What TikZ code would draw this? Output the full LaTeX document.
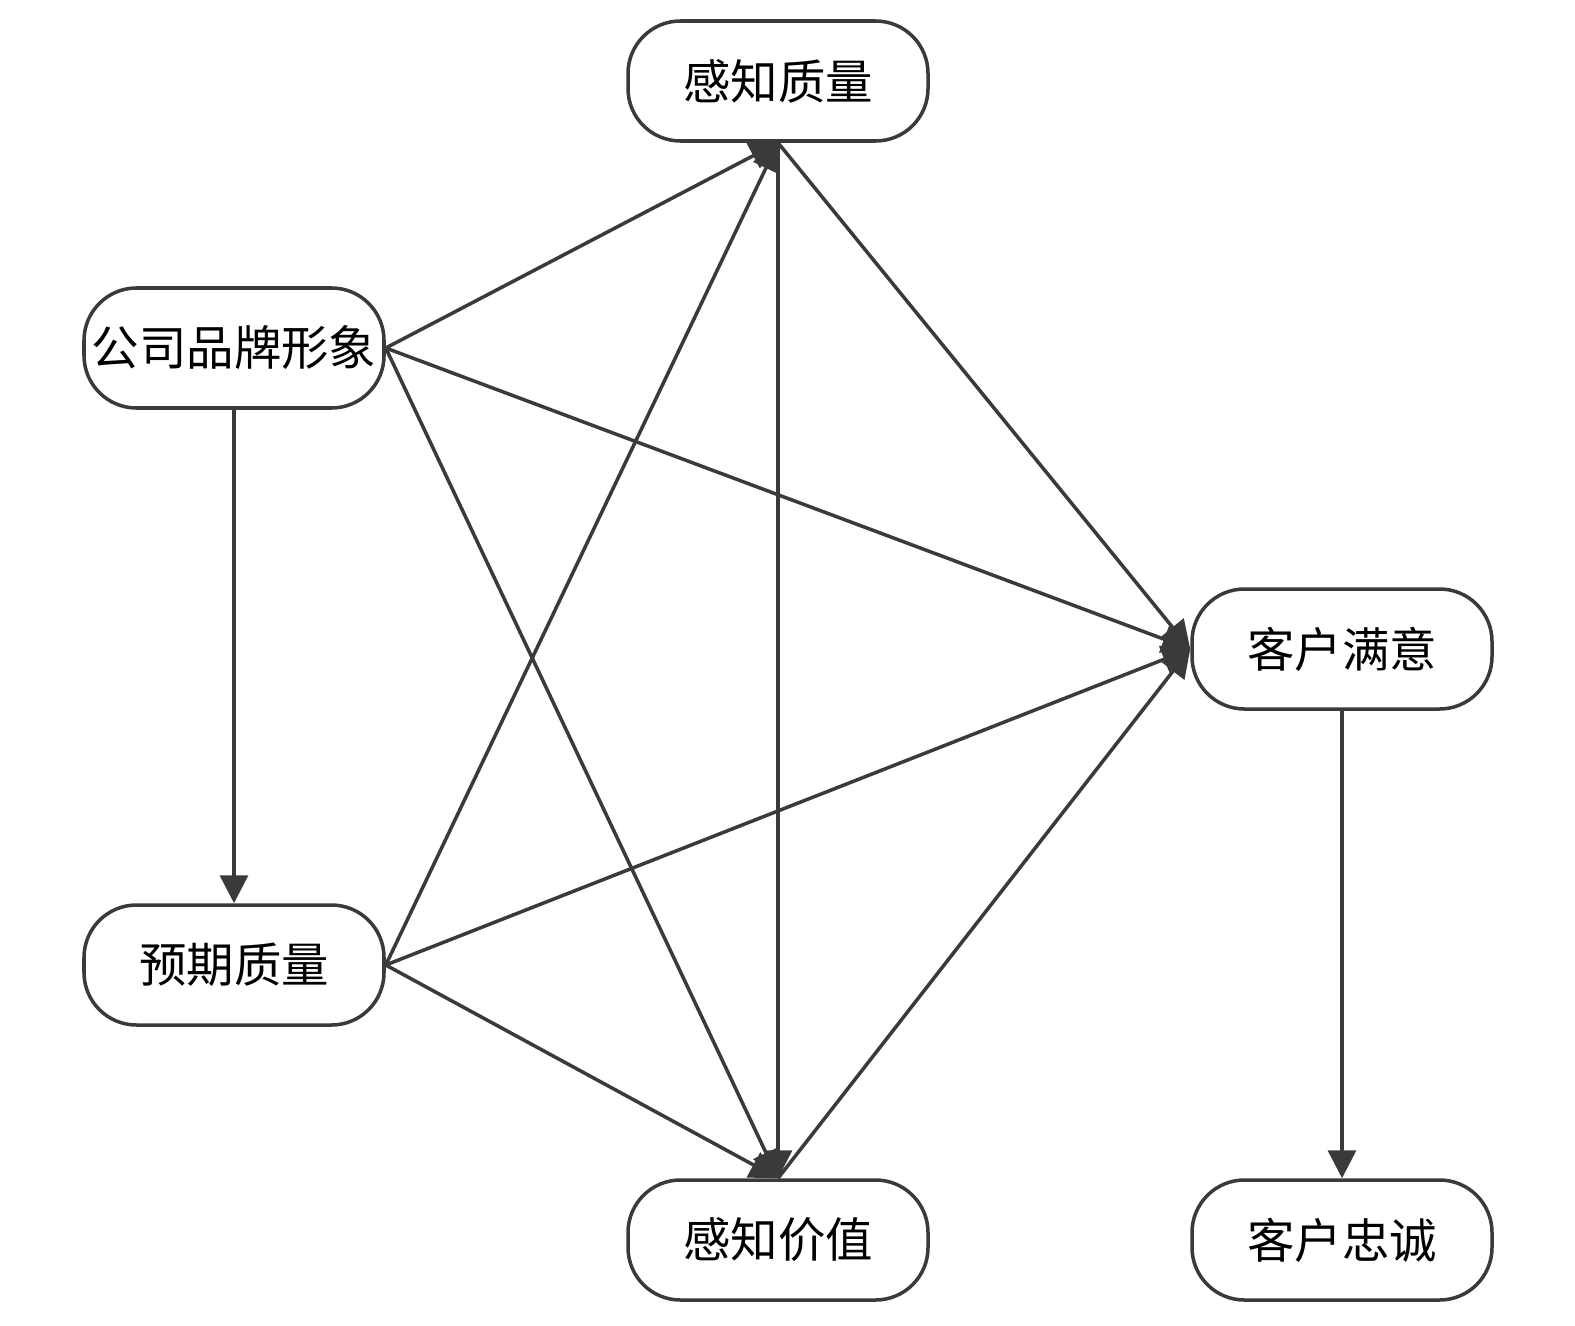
\documentclass[tikz,border=0pt]{standalone}
\usepackage{fontspec}
\newfontfamily\cjkfont{Noto Sans CJK SC}
\usetikzlibrary{arrows.meta}
\definecolor{linegray}{HTML}{3A3A3A}

\begin{document}
\begin{tikzpicture}[
    box/.style={draw=linegray, line width=2pt, rounded corners=1.05cm,
        minimum width=6cm, minimum height=2.4cm, inner sep=0pt,
        font=\cjkfont\fontsize{27}{32}\selectfont},
    link/.style={draw=linegray, line width=2pt,
        -{Triangle[length=0.56cm,width=0.56cm]}}
]

    \useasboundingbox (0,0) rectangle (31.5,-26.5);

    % Nos da esquerda
    \node[box] (marca) at (4.68,-6.96) {公司品牌形象};
    \node[box] (esperada) at (4.68,-19.3) {预期质量};

    % Nos do meio
    \node[box] (qualidade) at (15.56,-1.62) {感知质量};
    \node[box] (valor) at (15.56,-24.8) {感知价值};

    % Nos da direita
    \node[box] (satisf) at (26.84,-12.98) {客户满意};
    \node[box] (lealdade) at (26.84,-24.8) {客户忠诚};

    % Setas saindo da imagem da marca
    \draw[link] (marca.south) -- (esperada.north);
    \draw[link] (marca.east) -- (qualidade.south);
    \draw[link] (marca.east) -- (satisf.west);
    \draw[link] (marca.east) -- (valor.north);

    % Setas saindo da qualidade esperada
    \draw[link] (esperada.east) -- (qualidade.south);
    \draw[link] (esperada.east) -- (satisf.west);
    \draw[link] (esperada.east) -- (valor.north);

    % Qualidade e valor percebidos
    \draw[link] (qualidade.south) -- (valor.north);
    \draw[link] (qualidade.south) -- (satisf.west);
    \draw[link] (valor.north) -- (satisf.west);

    % Satisfacao -> lealdade
    \draw[link] (satisf.south) -- (lealdade.north);

\end{tikzpicture}
\end{document}
